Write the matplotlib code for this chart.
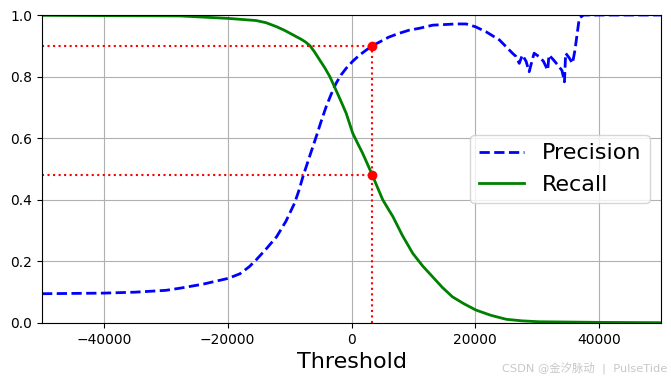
import numpy as np
import matplotlib.pyplot as plt

plt.rcParams['font.family'] = ['DejaVu Sans', 'Noto Sans CJK SC']

# values
prec_thr = [-50000, -40000, -35000, -30000, -27700, -24000, -19900, -18000, -16500,
            -15400, -13800, -12100, -10600, -9200, -8500, -7850, -6700, -5700,
            -4900, -4100, -3300, -2500, -1700, -860, 200, 1300, 2300, 3370, 4500,
            6000, 7600, 9350, 11000, 13100, 16900, 18500, 20000,
            21700, 23900, 26000, 26600, 27100, 27600, 28200, 28700, 29500, 30300,
            31000, 31700, 31900, 32600, 33300, 34000, 34400, 34600, 35200, 35700,
            36100, 36800, 37500, 50000]
precision = [0.095, 0.097, 0.100, 0.106, 0.113, 0.126, 0.145, 0.160, 0.183,
             0.205, 0.240, 0.280, 0.330, 0.389, 0.430, 0.475, 0.545, 0.605,
             0.655, 0.702, 0.742, 0.778, 0.805, 0.827, 0.850, 0.870, 0.885, 0.900, 0.912,
             0.928, 0.940, 0.951, 0.957, 0.967, 0.971, 0.971, 0.962,
             0.946, 0.919, 0.876, 0.865, 0.843, 0.870, 0.850, 0.816, 0.876, 0.865,
             0.850, 0.821, 0.870, 0.855, 0.838, 0.820, 0.783, 0.876, 0.860, 0.843,
             0.886, 0.990, 1.0, 1.0]

rec_thr = [-50000, -40000, -27700, -19900, -15400, -13800, -12100, -10800, -9500,
           -8200, -7400, -6700, -6000, -5200, -4300, -3500, -2500, -1700, -860, 200, 1000,
           1800, 2600, 3370, 4200, 5050, 6000, 6700, 8200, 9900, 11500, 13100, 14700,
           16300, 18200, 20100, 22500, 25000, 27500, 30300, 40000, 50000]
recall = [0.999, 0.998, 0.997, 0.989, 0.982, 0.975, 0.962, 0.950, 0.936,
          0.922, 0.912, 0.900, 0.881, 0.856, 0.828, 0.800, 0.756, 0.720, 0.681, 0.616, 0.583,
          0.551, 0.515, 0.480, 0.440, 0.400, 0.368, 0.345, 0.285, 0.226, 0.185, 0.150, 0.115,
          0.085, 0.062, 0.042, 0.025, 0.012, 0.007, 0.004, 0.002, 0.001]

threshold_90 = 3370
recall_90 = 0.4799
precision_90 = 0.9

fig = plt.figure(figsize=(6.71, 3.82), dpi=100)
ax = fig.add_axes([0.0626, 0.1545, 0.9225, 0.8062])

ax.plot(prec_thr, precision, 'b--', label='Precision', linewidth=2)
ax.plot(rec_thr, recall, 'g-', label='Recall', linewidth=2)

ax.plot([threshold_90, threshold_90], [0., precision_90], 'r:')
ax.plot([-50000, threshold_90], [precision_90, precision_90], 'r:')
ax.plot([-50000, threshold_90], [recall_90, recall_90], 'r:')
ax.plot([threshold_90], [precision_90], 'ro')
ax.plot([threshold_90], [recall_90], 'ro')

ax.legend(loc='center right', fontsize=16)
ax.set_xlabel('Threshold', fontsize=16)
ax.grid(True)
ax.axis([-50000, 50000, 0, 1])

fig.text(0.995, 0.02, 'CSDN @金汐脉动  |  PulseTide', ha='right', va='bottom',
         fontsize=8.2, color='#c8c8c8', family=['DejaVu Sans', 'Noto Sans CJK SC'])

fig.savefig('out.png', dpi=100)
